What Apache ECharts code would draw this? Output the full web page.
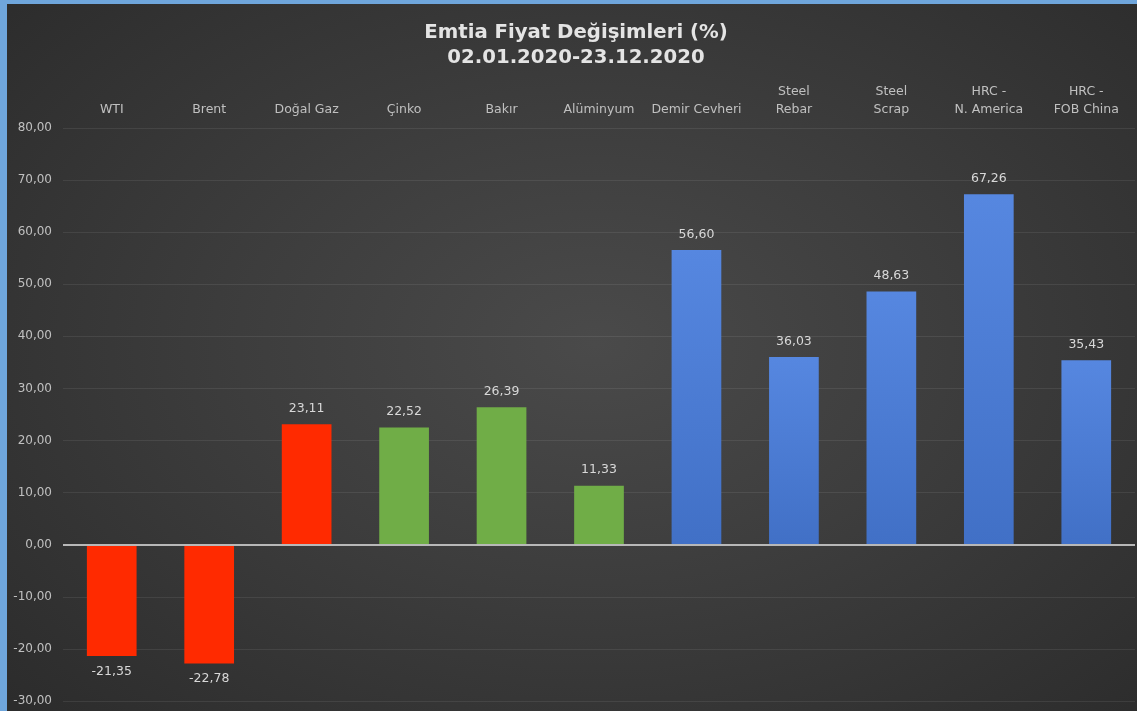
<!DOCTYPE html>
<html>
<head>
<meta charset="utf-8">
<script src="https://cdn.jsdelivr.net/npm/echarts@6/dist/echarts.min.js"></script>
<style>
html,body{margin:0;padding:0;background:#6fa6dc;width:1137px;height:711px;overflow:hidden;}
#chart{position:absolute;left:7px;top:4px;width:1130px;height:707px;
background:radial-gradient(ellipse 70% 75% at 52% 48%, #4a4a4a 0%, #3d3d3d 45%, #2c2c2c 100%);}
</style>
</head>
<body>
<div id="chart"></div>
<script>
const categories = ['WTI','Brent','Doğal Gaz','Çinko','Bakır','Alüminyum','Demir Cevheri','Steel\nRebar','Steel\nScrap','HRC -\nN. America','HRC -\nFOB China'];
const values = [-21.35,-22.78,23.11,22.52,26.39,11.33,56.60,36.03,48.63,67.26,35.43];
const groups = ['energy','energy','energy','metal','metal','metal','steel','steel','steel','steel','steel'];
const yTicks = { min: -30, max: 80, interval: 10 };
const titleLines = ['Emtia Fiyat Değişimleri (%)','02.01.2020-23.12.2020'];

const fmt = v => v.toFixed(2).replace('.', ',');
const colorFor = g => {
  if (g === 'energy') return '#ff2a00';
  if (g === 'metal') return '#70ad47';
  return new echarts.graphic.LinearGradient(0,0,0,1,[{offset:0,color:'#5687e0'},{offset:1,color:'#4170c6'}]);
};

const chart = echarts.init(document.getElementById('chart'), null, {renderer:'canvas'});
chart.setOption({
  backgroundColor: 'transparent',
  animation: false,
  title: {
    text: titleLines.join('\n'),
    left: 564,
    textAlign: 'center',
    top: 11,
    textStyle: {color:'#e4e4e4', fontFamily:'DejaVu Sans', fontWeight:'bold', fontSize:19.7, lineHeight:25}
  },
  grid: {left:56, right:2, top:124, bottom:10},
  xAxis: {
    type: 'category',
    position: 'top',
    data: categories,
    axisLine: {show:false},
    axisTick: {show:false},
    axisLabel: {color:'#c0c0c0', fontFamily:'DejaVu Sans', fontSize:12.5, lineHeight:18, margin:9, interval:0}
  },
  yAxis: {
    type: 'value',
    min: yTicks.min, max: yTicks.max, interval: yTicks.interval,
    axisLine: {show:false},
    axisTick: {show:false},
    axisLabel: {color:'#c0c0c0', fontFamily:'DejaVu Sans', fontSize:12, margin:11, formatter: v => fmt(v)},
    splitLine: {lineStyle:{color:'rgba(255,255,255,0.08)', width:1}}
  },
  series: [{
    type: 'bar',
    barWidth: '51%',
    data: values.map((v,i) => ({
      value: v,
      itemStyle: {color: colorFor(groups[i])},
      label: {position: v < 0 ? 'bottom' : 'top'}
    })),
    label: {
      show: true,
      color:'#d8d8d8', fontFamily:'DejaVu Sans', fontSize:12.5, distance:9,
      formatter: p => fmt(p.value)
    },
    markLine: {
      silent: true,
      symbol: ['none','none'],
      label: {show:false},
      lineStyle: {color:'#b8b8b8', width:2, type:'solid'},
      data: [{yAxis: 0}]
    }
  }]
});
</script>
</body>
</html>
